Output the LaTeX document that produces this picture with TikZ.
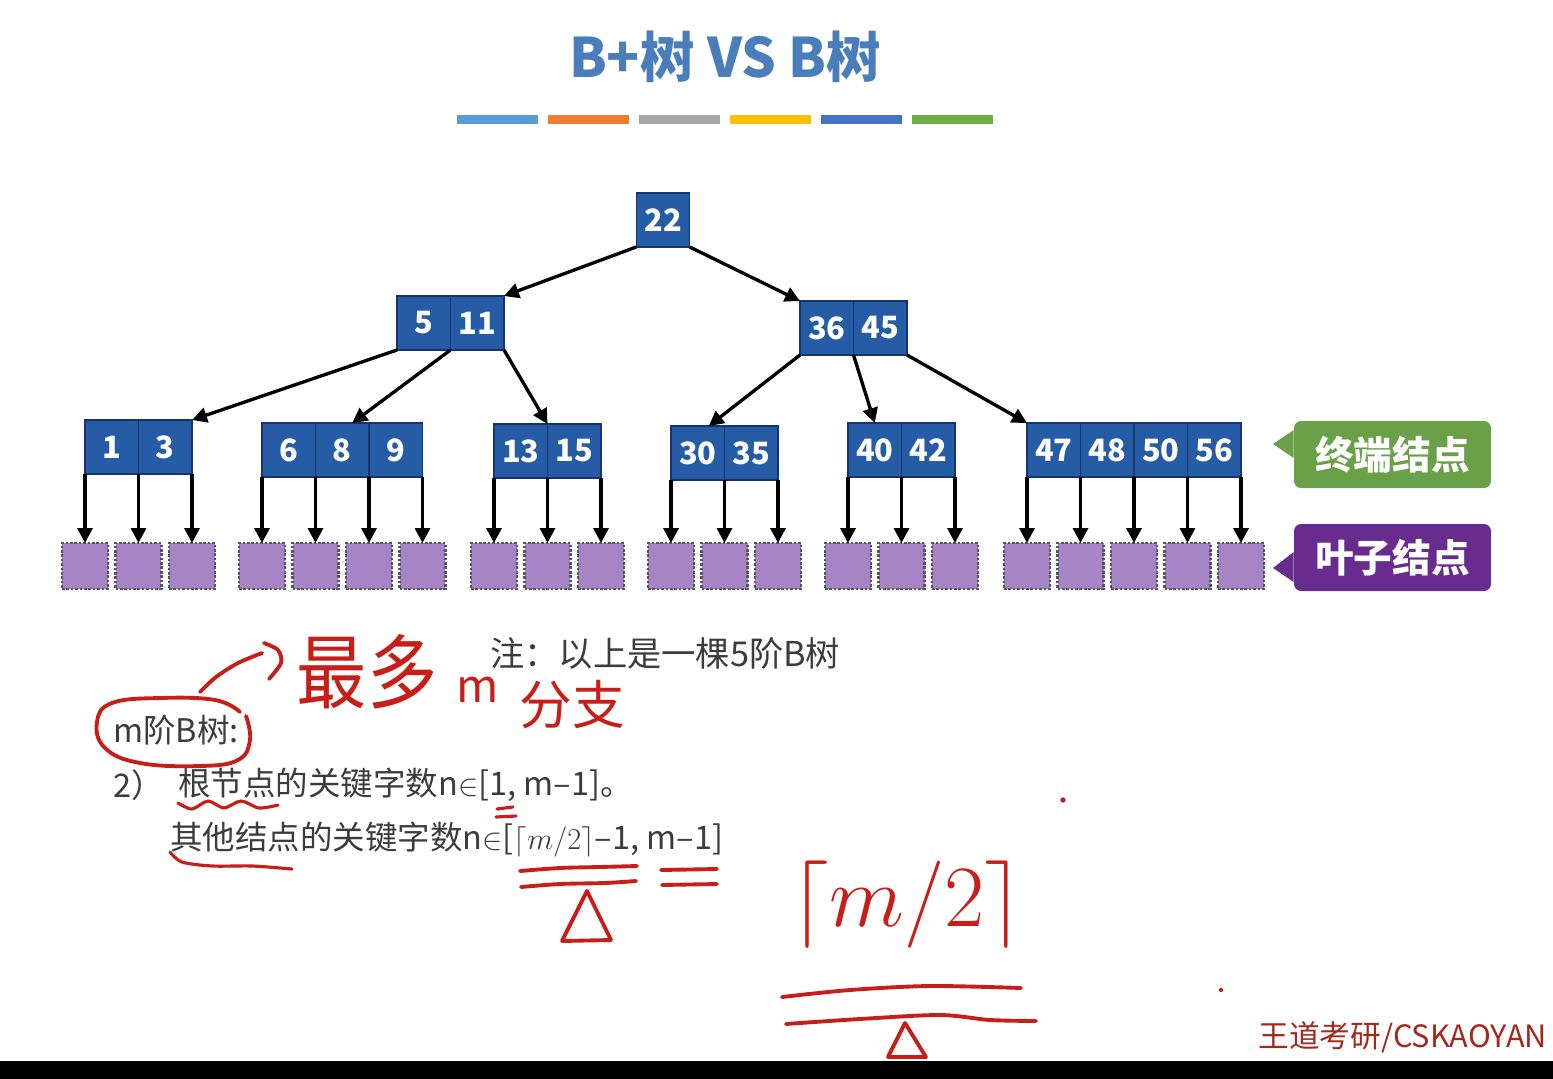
\documentclass[tikz,border=0pt]{standalone}
\usepackage{fontspec}
\setmainfont{Noto Sans CJK SC}
\usepackage{tikz}
\usetikzlibrary{arrows.meta}

\definecolor{keyfill}{RGB}{38,92,166}
\definecolor{keyedge}{RGB}{22,52,110}
\definecolor{leaffill}{RGB}{166,132,198}
\definecolor{leafedge}{RGB}{85,85,95}
\definecolor{termgreen}{RGB}{106,160,72}
\definecolor{leafpurple}{RGB}{104,44,142}
\definecolor{titleblue}{RGB}{74,126,187}
\definecolor{textgray}{RGB}{60,60,60}
\definecolor{inkred}{RGB}{200,30,25}
\definecolor{wmred}{RGB}{165,40,30}
\definecolor{bar1}{RGB}{91,155,213}
\definecolor{bar2}{RGB}{237,125,49}
\definecolor{bar3}{RGB}{165,165,165}
\definecolor{bar4}{RGB}{255,192,0}
\definecolor{bar5}{RGB}{68,114,196}
\definecolor{bar6}{RGB}{112,173,71}

\begin{document}
\begin{tikzpicture}[x=0.02cm, y=-0.02cm,
	keycell/.style={draw=keyedge, fill=keyfill, line width=0.8pt, minimum width=1.07cm, minimum height=1.08cm, inner sep=0pt, outer sep=0pt, text=white, font=\bfseries\fontsize{17.5}{20}\selectfont},
	leafbox/.style={draw=leafedge, fill=leaffill, densely dotted, line width=1.5pt, minimum size=0.92cm, inner sep=0pt, outer sep=0pt},
	treearrow/.style={-{Triangle[length=8.5pt, width=8.5pt]}, line width=1.9pt},
	tag/.style={rounded corners=4pt, minimum width=3.94cm, minimum height=1.34cm, text=white, font=\bfseries\fontsize{22}{24}\selectfont},
	plain/.style={anchor=west, text=textgray, inner sep=0pt, font=\fontsize{18.5}{21}\selectfont},
	hand/.style={draw=inkred, line width=2.2pt, line cap=round, line join=round},
	handtext/.style={text=inkred, inner sep=0pt}]
	\useasboundingbox (0,0) rectangle (1553,1079);
	\fill[white] (0,0) rectangle (1553,1079);
	% title and colour bars
	\node[text=titleblue, font=\bfseries\fontsize{31}{34}\selectfont] (title) at (725,57) {B+树 VS B树};
	\foreach \c [count=\i from 0] in {bar1,bar2,bar3,bar4,bar5,bar6}
		\fill[\c] (457+91*\i,115) rectangle ++(81,9);
	% upper levels
	\node[keycell] (r) at (663,220) {22};
	\node[keycell] (b1) at (423.75,323) {5};
	\node[keycell] (b2) at (477.25,323) {11};
	\node[keycell] (c1) at (826.75,328) {36};
	\node[keycell] (c2) at (880.25,328) {45};
	% terminal nodes with their leaves
	\foreach \g/\x/\y/\keys/\n in {a/85/447/{1,3}/2, e/262/450/{6,8,9}/3, f/494/451/{13,15}/2, h/671/453/{30,35}/2, i/848/450/{40,42}/2, j/1027/450/{47,48,50,56}/4}{
		\foreach \k [count=\i] in \keys
			\node[keycell] (\g\i) at (\x+53.5*\i-26.75,\y) {\k};
		\foreach \s in {0,...,\n}{
			\coordinate (\g-s\s) at (\x+53.5*\s,\y+27);
			\node[leafbox] (\g-l\s) at (\x+53.5*\s,566) {};
			\draw[treearrow] (\g-s\s) -- (\g-l\s.north);
		}
	}
	\draw[treearrow] (r.south west) -- (b2.north east);
	\draw[treearrow] (r.south east) -- (c1.north west);
	\draw[treearrow] (b1.south west) -- (a2.north east);
	\draw[treearrow] (b1.south east) -- ([xshift=0.2cm]e2.north);
	\draw[treearrow] (b2.south east) -- (f1.north east);
	\draw[treearrow] (c1.south west) -- ([xshift=0.22cm]h1.north);
	\draw[treearrow] (c1.south east) -- (i1.north);
	\draw[treearrow] (c2.south east) -- (j1.north west);
	% callouts
	\node[tag, fill=termgreen] (term) at (1392.5,454.5) {终端结点};
	\coordinate (termtip) at (1273,444);
	\fill[termgreen] ([yshift=0.49cm]term.west) -- (termtip) -- ([yshift=-0.07cm]term.west) -- cycle;
	\node[tag, fill=leafpurple] (leaf) at (1392.5,557.5) {叶子结点};
	\coordinate (leaftip) at (1273,568);
	\fill[leafpurple] ([yshift=0.11cm]leaf.west) -- (leaftip) -- ([yshift=-0.49cm]leaf.west) -- cycle;
	% notes
	\node[plain, font=\fontsize{19.5}{22}\selectfont] (note) at (490,653) {注：以上是一棵5阶B树};
	\node[plain] (morder) at (113,730) {m阶B树:};
	\node[plain] (item2) at (113,785) {2）};
	\node[plain] (rootkeys) at (178,785) {根节点的关键字数n$\in$[1, m–1]。};
	\node[plain] (otherkeys) at (170,840) {其他结点的关键字数n$\in$[$\lceil m/2\rceil$–1, m–1]};
	% handwriting
	\draw[hand] plot[smooth, tension=0.7] coordinates {(240,712) (215,700) (160,698) (112,703) (97,722) (105,748) (140,763) (200,766) (238,760) (250,740) (246,716)};
	\draw[hand] plot[smooth] coordinates {(200,692) (216,677) (238,663) (262,653)};
	\draw[hand] plot[smooth] coordinates {(264,643) (278,650) (281,663) (269,679)};
	\node[handtext, font=\fontsize{40}{42}\selectfont, yscale=1.15] (zuiduo) at (367,672) {最多};
	\node[handtext, font=\fontsize{26}{28}\selectfont] (mm) at (478,690) {m};
	\node[handtext, font=\fontsize{30}{32}\selectfont] (fenzhi) at (572,705) {分支};
	\draw[hand, line width=1.8pt] plot[smooth] coordinates {(178,803) (192,809) (208,801) (224,808) (241,801) (259,808) (278,805)};
	\draw[hand, line width=1.8pt] plot[smooth] coordinates {(170,852) (182,862) (212,866) (252,866) (292,869)};
	\draw[hand, line width=1.8pt] (497,809) -- (513,807) (496,817) -- (516,816);
	\draw[hand] plot[smooth] coordinates {(520,871) (560,868) (600,867) (637,866)};
	\draw[hand] plot[smooth] coordinates {(521,887) (560,884) (605,883) (636,881)};
	\draw[hand] (587,891) -- (562,941) -- (611,940) -- cycle;
	\draw[hand] (661,870) -- (717,869) (662,885) -- (717,884);
	\node[handtext, scale=2, font=\Huge] (ceil) at (907,905) {$\lceil m/2\rceil$};
	\draw[hand] plot[smooth] coordinates {(782,997) (850,990) (930,986) (1021,988)};
	\draw[hand] plot[smooth] coordinates {(786,1024) (860,1019) (940,1015) (990,1020) (1036,1021)};
	\draw[hand] (905,1023) -- (888,1057) -- (926,1057) -- cycle;
	\fill[inkred] (1063,800) circle (1.5pt);
	\fill[inkred] (1221,990) circle (1.2pt);
	% bottom bar and watermark
	\fill[black] (0,1061) rectangle (1553,1079);
	\node[anchor=west, text=wmred, inner sep=0pt, font=\fontsize{17.5}{20}\selectfont] (wm) at (1258,1037) {王道考研/CSKAOYAN};
\end{tikzpicture}
\end{document}
